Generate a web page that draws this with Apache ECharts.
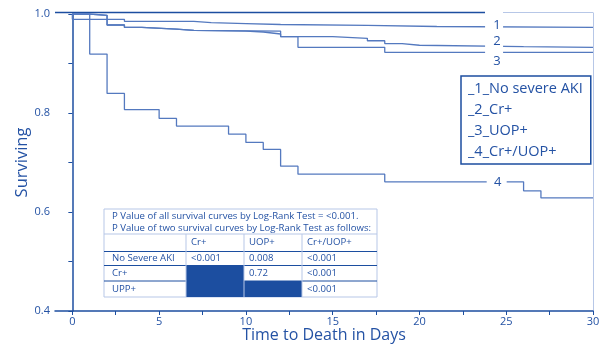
<!DOCTYPE html>
<html>
<head>
<meta charset="utf-8">
<script src="https://cdn.jsdelivr.net/npm/echarts@6/dist/echarts.min.js"></script>
<style>
  html, body { margin: 0; padding: 0; background: #fff; }
  #chart { width: 608px; height: 344px; }
</style>
</head>
<body>
<div id="chart"></div>
<script>
// Kaplan-Meier steps (day, surviving fraction after that day)
const groupNames = ['_1_No severe AKI', '_2_Cr+', '_3_UOP+', '_4_Cr+/UOP+'];
const groupTags = ['1', '2', '3', '4'];

const days1 = [0, 0, 3, 7, 8, 10, 12, 17, 21, 30];
const surv1 = [1, 0.9893, 0.9852, 0.9824, 0.9804, 0.9788, 0.9771, 0.9747, 0.9731, 0.9731];

const days2 = [0, 1, 2, 3, 4, 6, 7, 10, 11, 12, 15, 17, 18, 19, 20, 26, 30];
const surv2 = [1, 0.9974, 0.9778, 0.9731, 0.9695, 0.967, 0.9656, 0.9636, 0.9596, 0.9541, 0.9509, 0.946, 0.9403, 0.9369, 0.9339, 0.9327, 0.9327];

const days3 = [0, 1, 2, 3, 4, 6, 7, 12, 13, 18, 30];
const surv3 = [1, 0.9974, 0.9778, 0.9731, 0.9695, 0.967, 0.9656, 0.9541, 0.9327, 0.9225, 0.9225];

const days4 = [0, 1, 2, 3, 5, 6, 9, 10, 11, 12, 13, 18, 26, 27, 30];
const surv4 = [1, 0.919, 0.8396, 0.8069, 0.789, 0.7735, 0.7573, 0.7405, 0.7264, 0.6926, 0.6764, 0.6609, 0.6427, 0.6285, 0.6285];

const xTicks = [0, 2.5, 5, 7.5, 10, 12.5, 15, 17.5, 20, 22.5, 25, 27.5, 30];
const xLabels = [0, 5, 10, 15, 20, 25, 30];

// where the curve number sits on each curve (day) and text shift
const tagDays = [24.3, 24.3, 24.3, 24.45];
const tagShift = [[3, -2], [3, -5], [3, 9], [1, 0]];
const tagGap = [18, 18, 18, 20];

// p-value table
const pTitle = [
  'P Value of all survival curves by Log-Rank Test = <0.001.',
  'P Value of two survival curves by Log-Rank Test as follows:'
];
const pCols = ['Cr+', 'UOP+', 'Cr+/UOP+'];
const pRows = ['No Severe AKI', 'Cr+', 'UPP+'];
const pVals = [
  ['<0.001', '0.008', '<0.001'],
  [null, '0.72', '<0.001'],
  [null, null, '<0.001']
];

const dark = '#1c4ea0';
const light = '#b7c7e7';
const textBlue = '#2452a4';
const curveBlue = '#5479bf';
const font = '"Open Sans", "Noto Sans", sans-serif';

const allDays = [days1, days2, days3, days4];
const allSurv = [surv1, surv2, surv3, surv4];

function survAt(days, surv, t) {
  let v = surv[0];
  for (let i = 0; i < days.length; i++) {
    if (days[i] <= t) v = surv[i];
  }
  return v;
}

function tableGraphic() {
  const els = [];
  const colX = [104, 186, 244, 302, 377];
  const rowY = [234, 251.5, 265.5, 281, 297];
  const top = 209;
  const fs = 9.6;
  const txt = (x, y, s) => ({
    type: 'text', x: x, y: y,
    style: { text: s, fill: textBlue, font: fs + 'px ' + font, verticalAlign: 'middle' }
  });
  els.push({ type: 'rect', shape: { x: colX[0], y: top, width: colX[4] - colX[0], height: rowY[4] - top },
    style: { fill: '#fff', stroke: light, lineWidth: 1 } });
  // dark cells where no value
  pVals.forEach((row, r) => {
    row.forEach((v, c) => {
      if (v === null) {
        els.push({ type: 'rect', shape: { x: colX[c + 1], y: rowY[r + 1], width: colX[c + 2] - colX[c + 1], height: rowY[r + 2] - rowY[r + 1] },
          style: { fill: dark } });
      }
    });
  });
  els.push({ type: 'line', shape: { x1: colX[0], y1: rowY[0], x2: colX[4], y2: rowY[0] }, style: { stroke: light, lineWidth: 1 } });
  for (let r = 1; r < rowY.length - 1; r++) {
    els.push({ type: 'line', shape: { x1: colX[0], y1: rowY[r], x2: colX[4], y2: rowY[r] }, style: { stroke: dark, lineWidth: 1 } });
  }
  for (let c = 1; c < colX.length - 1; c++) {
    els.push({ type: 'line', shape: { x1: colX[c], y1: rowY[0], x2: colX[c], y2: rowY[4] }, style: { stroke: light, lineWidth: 1 } });
  }
  els.push(txt(112, 216.5, pTitle[0]));
  els.push(txt(112, 228.5, pTitle[1]));
  pCols.forEach((s, c) => els.push(txt(colX[c + 1] + 5, (rowY[0] + rowY[1]) / 2, s)));
  pRows.forEach((s, r) => {
    const yc = (rowY[r + 1] + rowY[r + 2]) / 2;
    els.push(txt(112, yc, s));
    pVals[r].forEach((v, c) => {
      if (v !== null) els.push(txt(colX[c + 1] + 5, yc, v));
    });
  });
  return { type: 'group', z: 100, children: els };
}

const series = groupNames.map((name, i) => ({
  name: name,
  type: 'line',
  step: 'end',
  symbol: 'none',
  silent: true,
  lineStyle: { color: curveBlue, width: 1.3 },
  itemStyle: { color: curveBlue },
  data: allDays[i].map((d, k) => [d, allSurv[i][k]]),
  markPoint: {
    silent: true,
    symbol: 'rect',
    symbolSize: [tagGap[i], 5],
    itemStyle: { color: '#fff' },
    label: {
      show: true,
      formatter: groupTags[i],
      color: textBlue,
      fontSize: 13,
      fontFamily: font,
      offset: tagShift[i]
    },
    data: [{ coord: [tagDays[i], survAt(allDays[i], allSurv[i], tagDays[i])] }]
  }
}));

const chart = echarts.init(document.getElementById('chart'));
chart.setOption({
  animation: false,
  backgroundColor: '#fff',
  textStyle: { fontFamily: font },
  grid: { left: 55, right: 15, top: 14, bottom: 33, outerBoundsMode: 'none' },
  legend: {
    data: groupNames,
    orient: 'vertical',
    left: 461,
    top: 76,
    icon: 'none',
    itemWidth: 0,
    itemHeight: 14,
    itemGap: 5,
    padding: [5, 8, 4, 2],
    borderColor: dark,
    borderWidth: 1.5,
    selectedMode: false,
    textStyle: { color: textBlue, fontSize: 14.5, fontFamily: font, lineHeight: 16 }
  },
  xAxis: {
    type: 'value',
    min: -1,
    max: 30,
    name: 'Time to Death in Days',
    nameLocation: 'middle',
    nameGap: 16,
    nameMoveOverlap: false,
    nameTextStyle: { color: textBlue, fontSize: 16, fontFamily: font },
    axisLine: { lineStyle: { color: dark, width: 1.5 } },
    axisTick: { customValues: xTicks, length: 4, lineStyle: { color: dark } },
    axisLabel: { customValues: xLabels, color: textBlue, fontSize: 11, margin: 5 },
    splitLine: { show: false }
  },
  yAxis: {
    type: 'value',
    min: 0.4,
    max: 1.0,
    interval: 0.1,
    name: 'Surviving',
    nameLocation: 'middle',
    nameGap: 24,
    nameMoveOverlap: false,
    nameTextStyle: { color: textBlue, fontSize: 16.5, fontFamily: font },
    axisLine: { show: true, lineStyle: { color: dark, width: 1.5 } },
    axisTick: { show: true, length: 4, lineStyle: { color: dark } },
    axisLabel: {
      color: textBlue,
      fontSize: 11,
      margin: 5,
      formatter: function (v) {
        const k = Math.round(v * 10);
        return k % 2 === 0 ? (k / 10).toFixed(1) : '';
      }
    },
    splitLine: { show: false }
  },
  graphic: [
    // frame: top edge dark up to the tags, light after, light right edge
    { type: 'line', shape: { x1: 55, y1: 12.5, x2: 485, y2: 12.5 }, style: { stroke: dark, lineWidth: 1.5 } },
    { type: 'line', shape: { x1: 503, y1: 12.5, x2: 593, y2: 12.5 }, style: { stroke: light, lineWidth: 1 } },
    { type: 'line', shape: { x1: 593.5, y1: 12.5, x2: 593.5, y2: 311 }, style: { stroke: light, lineWidth: 1 } },
    tableGraphic()
  ],
  series: series
});
</script>
</body>
</html>
